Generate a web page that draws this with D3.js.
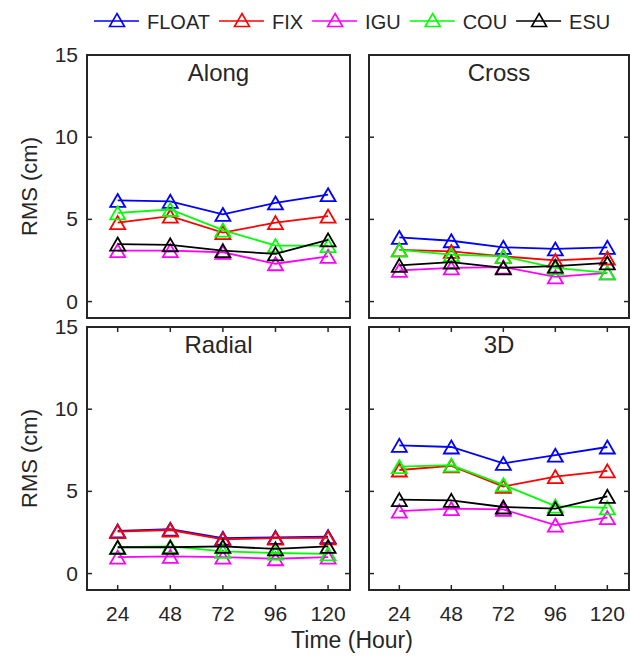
<!DOCTYPE html>
<html>
<head>
<meta charset="utf-8">
<script src="https://cdn.jsdelivr.net/npm/d3@7"></script>
<style>
  body { margin: 0; background: #fff; }
  text { font-family: "Liberation Sans", Arial, sans-serif; fill: #262626; }
</style>
</head>
<body>
<div id="chart"></div>
<script>
const hours = [24, 48, 72, 96, 120];
const seriesNames = ["FLOAT", "FIX", "IGU", "COU", "ESU"];
const seriesColors = ["#0000ff", "#ff0000", "#ff00ff", "#00ff00", "#000000"];
const yTicks = [0, 5, 10, 15];
const panelTitles = ["Along", "Cross", "Radial", "3D"];

// rows follow seriesNames order
const along = [
    [6.15, 6.1, 5.3, 6.0, 6.5],
    [4.8, 5.2, 4.2, 4.8, 5.2],
    [3.1, 3.1, 3.0, 2.3, 2.75],
    [5.4, 5.6, 4.35, 3.4, 3.4],
    [3.5, 3.45, 3.1, 2.9, 3.75]
];
const cross = [
    [3.9, 3.7, 3.3, 3.2, 3.3],
    [3.15, 3.05, 2.75, 2.5, 2.65],
    [1.9, 2.05, 2.1, 1.5, 1.75],
    [3.15, 2.85, 2.75, 2.05, 1.75],
    [2.2, 2.4, 2.05, 2.15, 2.35]
];
const radial = [
    [2.6, 2.7, 2.15, 2.2, 2.25],
    [2.55, 2.65, 2.08, 2.15, 2.18],
    [1.0, 1.05, 1.0, 0.9, 1.0],
    [1.6, 1.65, 1.35, 1.25, 1.2],
    [1.6, 1.6, 1.65, 1.5, 1.65]
];
const threeD = [
    [7.8, 7.7, 6.7, 7.2, 7.7],
    [6.3, 6.55, 5.3, 5.9, 6.25],
    [3.8, 3.95, 3.9, 2.95, 3.4],
    [6.5, 6.6, 5.4, 4.1, 4.0],
    [4.5, 4.45, 4.05, 3.95, 4.7]
];
const panelData = [along, cross, radial, threeD];

const W = 630, H = 659;
const svg = d3.select("#chart").append("svg")
    .attr("width", W)
    .attr("height", H);

const panels = [
    {x0: 87, x1: 350, y0: 55, y1: 318, col: 0, row: 0},
    {x0: 369, x1: 629, y0: 55, y1: 318, col: 1, row: 0},
    {x0: 87, x1: 350, y0: 327, y1: 590, col: 0, row: 1},
    {x0: 369, x1: 629, y0: 327, y1: 590, col: 1, row: 1}
];

const tri = "M0,-6.5L7.5,6.5L-7.5,6.5Z";

panels.forEach((p, pi) => {
    const x = d3.scaleLinear().domain([10, 130]).range([p.x0, p.x1]);
    const y = d3.scaleLinear().domain([-1, 15]).range([p.y1, p.y0]);
    const g = svg.append("g");

    // y ticks, inside on both sides
    yTicks.filter(t => t < 15).forEach(t => {
        g.append("line").attr("x1", p.x0).attr("x2", p.x0 + 5)
            .attr("y1", y(t)).attr("y2", y(t)).attr("stroke", "#262626").attr("stroke-width", 1.5);
        g.append("line").attr("x1", p.x1).attr("x2", p.x1 - 5)
            .attr("y1", y(t)).attr("y2", y(t)).attr("stroke", "#262626").attr("stroke-width", 1.5);
    });
    if (p.col === 0) {
        g.selectAll(".ytl").data(yTicks).enter().append("text")
            .attr("x", p.x0 - 9)
            .attr("y", d => y(d) + 7)
            .attr("text-anchor", "end")
            .attr("font-size", 21)
            .text(d => d);
        g.append("text")
            .attr("transform", "translate(37," + ((p.y0 + p.y1) / 2) + ") rotate(-90)")
            .attr("text-anchor", "middle")
            .attr("font-size", 22)
            .text("RMS (cm)");
    }
    if (p.row === 1) {
        hours.forEach(h => {
            g.append("line").attr("x1", x(h)).attr("x2", x(h))
                .attr("y1", p.y1).attr("y2", p.y1 - 5).attr("stroke", "#262626").attr("stroke-width", 1.5);
            g.append("line").attr("x1", x(h)).attr("x2", x(h))
                .attr("y1", p.y0).attr("y2", p.y0 + 5).attr("stroke", "#262626").attr("stroke-width", 1.5);
        });
        g.selectAll(".xtl").data(hours).enter().append("text")
            .attr("x", d => x(d))
            .attr("y", 621)
            .attr("text-anchor", "middle")
            .attr("font-size", 21)
            .text(d => d);
    }

    const line = d3.line()
        .x((d, i) => x(hours[i]))
        .y(d => y(d));

    panelData[pi].forEach((vals, si) => {
        g.append("path")
            .datum(vals)
            .attr("d", line)
            .attr("fill", "none")
            .attr("stroke", seriesColors[si])
            .attr("stroke-width", 1.8);
        g.selectAll(".m" + si).data(vals).enter().append("path")
            .attr("d", tri)
            .attr("transform", (d, i) => "translate(" + x(hours[i]) + "," + y(d) + ")")
            .attr("fill", "none")
            .attr("stroke", seriesColors[si])
            .attr("stroke-width", 1.8);
    });

    g.append("text")
        .attr("x", (p.x0 + p.x1) / 2)
        .attr("y", p.y0 + 26)
        .attr("text-anchor", "middle")
        .attr("font-size", 24)
        .text(panelTitles[pi]);

    g.append("rect")
        .attr("x", p.x0).attr("y", p.y0)
        .attr("width", p.x1 - p.x0).attr("height", p.y1 - p.y0)
        .attr("fill", "none")
        .attr("stroke", "#262626")
        .attr("stroke-width", 2);
});

svg.append("text")
    .attr("x", 352)
    .attr("y", 648)
    .attr("text-anchor", "middle")
    .attr("font-size", 23)
    .text("Time (Hour)");

// legend
let lx = 94;
seriesNames.forEach((name, i) => {
    const lg = svg.append("g");
    lg.append("line").attr("x1", lx).attr("x2", lx + 45)
        .attr("y1", 21).attr("y2", 21)
        .attr("stroke", seriesColors[i]).attr("stroke-width", 1.6);
    lg.append("path").attr("d", tri)
        .attr("transform", "translate(" + (lx + 23) + ",20)")
        .attr("fill", "none").attr("stroke", seriesColors[i]).attr("stroke-width", 1.6);
    const t = lg.append("text")
        .attr("x", lx + 53).attr("y", 29)
        .attr("font-size", 20)
        .text(name);
    lx = lx + 53 + t.node().getComputedTextLength() + 9;
});
</script>
</body>
</html>
